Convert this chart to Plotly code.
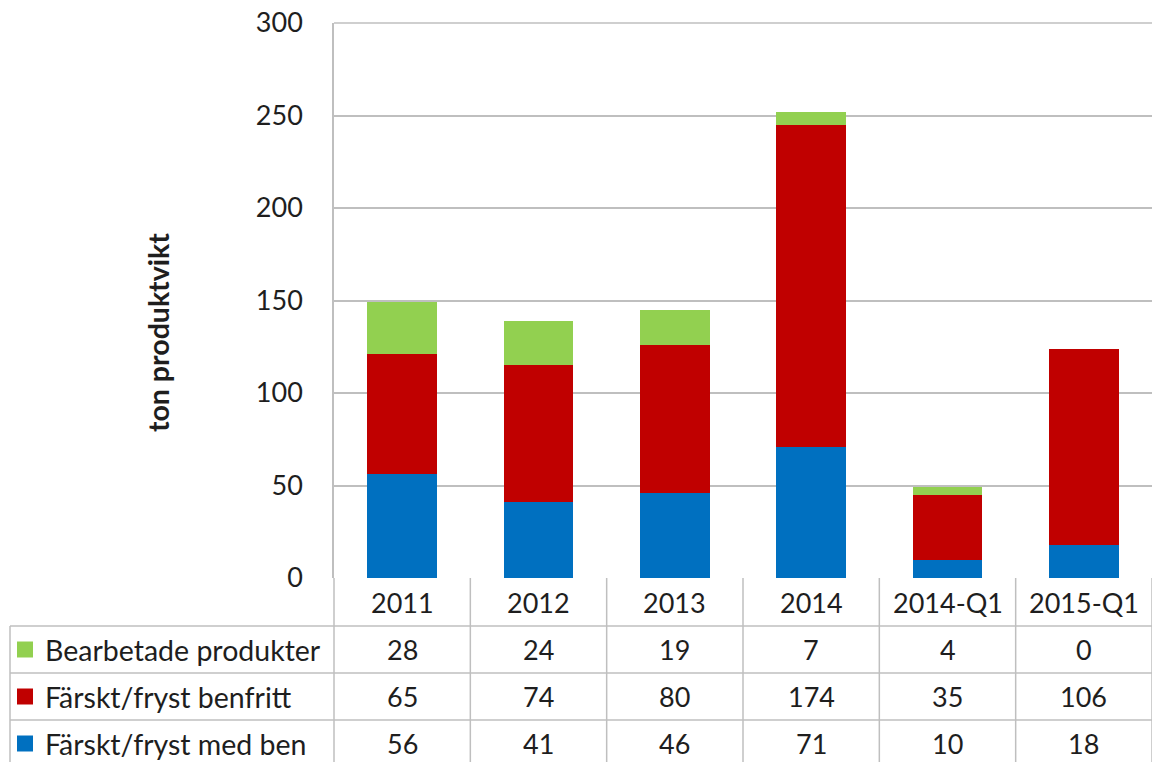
import plotly.graph_objects as go

categories = ["2011", "2012", "2013", "2014", "2014-Q1", "2015-Q1"]
series_names = ["Bearbetade produkter", "Färskt/fryst benfritt", "Färskt/fryst med ben"]
bearbetade = [28, 24, 19, 7, 4, 0]
benfritt = [65, 74, 80, 174, 35, 106]
med_ben = [56, 41, 46, 71, 10, 18]
colors = ["#92D050", "#C00000", "#0070C0"]
y_ticks = [0, 50, 100, 150, 200, 250, 300]
y_title = "ton produktvikt"

O = 0  # body margin removed via post_script
W, H = 1152 - O, 762 - O
PLOT_L, PLOT_T, PLOT_B = 334, 23, 578  # reference page pixels
L, R, T, B = PLOT_L - O, 0, PLOT_T - O, H - (PLOT_B - O)
PW = W - L - R
PH = H - T - B
FONT = "Lato"
FS = 27
TXT = "#1e1e1e"
GRID = "#BFBFBF"


def px(xpage):
    return (xpage - O - L) / PW


def py(ypage):
    return (PLOT_B - ypage) / PH


fig = go.Figure()
# stacking order bottom->top: med ben, benfritt, bearbetade
for name, vals, col in [(series_names[2], med_ben, colors[2]),
                        (series_names[1], benfritt, colors[1]),
                        (series_names[0], bearbetade, colors[0])]:
    fig.add_trace(go.Bar(x=categories, y=vals, name=name, marker=dict(color=col, line=dict(width=0)),
                         hoverinfo="skip"))

shapes = []
annotations = []

row_h = 47
header_top = PLOT_B
header_bot = header_top + 48
rows_y = [header_bot + i * row_h for i in range(3)]
n = len(categories)

# top border line of plot area (gridline at max)
shapes.append(dict(type="line", xref="paper", yref="paper", x0=0, x1=1.01,
                   y0=1, y1=1, line=dict(color=GRID, width=1.5)))
# horizontal table lines
for i in range(3):
    yy = rows_y[i]
    shapes.append(dict(type="line", xref="paper", yref="paper", x0=px(10), x1=px(1160),
                       y0=py(yy), y1=py(yy), line=dict(color=GRID, width=1.5)))
# left border of legend column
shapes.append(dict(type="line", xref="paper", yref="paper", x0=px(10), x1=px(10),
                   y0=py(header_bot), y1=py(770), line=dict(color=GRID, width=1.5)))
# vertical dividers below plot
for k in range(n + 1):
    xx = k / n
    shapes.append(dict(type="line", xref="paper", yref="paper", x0=xx, x1=xx,
                       y0=0, y1=py(770), line=dict(color=GRID, width=1.5)))

# category header labels
for i, c in enumerate(categories):
    annotations.append(dict(x=i, xref="x", y=py((header_top + header_bot) / 2), yref="paper",
                            text=c, showarrow=False, xanchor="center", yanchor="middle",
                            font=dict(family=FONT, size=FS, color=TXT)))

table_rows = [(series_names[0], bearbetade, colors[0]),
              (series_names[1], benfritt, colors[1]),
              (series_names[2], med_ben, colors[2])]
for r, (name, vals, col) in enumerate(table_rows):
    yc = rows_y[r] + row_h / 2
    shapes.append(dict(type="rect", xref="paper", yref="paper", x0=px(17), x1=px(33),
                       y0=py(yc - 8), y1=py(yc + 8), fillcolor=col, line=dict(width=0)))
    annotations.append(dict(x=px(43), xref="paper", y=py(yc), yref="paper", text=name,
                            showarrow=False, xanchor="left", yanchor="middle",
                            font=dict(family=FONT, size=28.5, color=TXT)))
    for i, v in enumerate(vals):
        annotations.append(dict(x=i, xref="x", y=py(yc), yref="paper", text=str(v),
                                showarrow=False, xanchor="center", yanchor="middle",
                                font=dict(family=FONT, size=FS, color=TXT)))

# y-axis title
annotations.append(dict(x=px(158), xref="paper", y=py(333), yref="paper", text=y_title,
                        textangle=-90, showarrow=False, xanchor="center", yanchor="middle",
                        font=dict(family=FONT, size=28.5, color=TXT, weight="bold")))

fig.update_layout(
    width=W, height=H,
    margin=dict(l=L, r=R, t=T, b=B, pad=0),
    barmode="stack",
    bargap=0.487,
    showlegend=False,
    hovermode=False,
    plot_bgcolor="white",
    paper_bgcolor="white",
    shapes=shapes,
    annotations=annotations,
    xaxis=dict(type="category", showticklabels=False, showgrid=False, zeroline=False, showline=False,
               range=[-0.5, n - 0.5], fixedrange=True, automargin=False),
    yaxis=dict(range=[0, 300], tickvals=y_ticks, showgrid=True, gridcolor=GRID, gridwidth=1.5,
               zeroline=False, showline=True, linecolor=GRID, linewidth=1.5, fixedrange=True,
               ticks="", ticklabelstandoff=24, automargin=False, ticklabeloverflow="allow",
               tickfont=dict(family=FONT, size=FS, color=TXT)),
)

fig.write_html("out.html", config={"displayModeBar": False},
               post_script="document.body.style.margin='0px';document.body.style.overflow='hidden';")
